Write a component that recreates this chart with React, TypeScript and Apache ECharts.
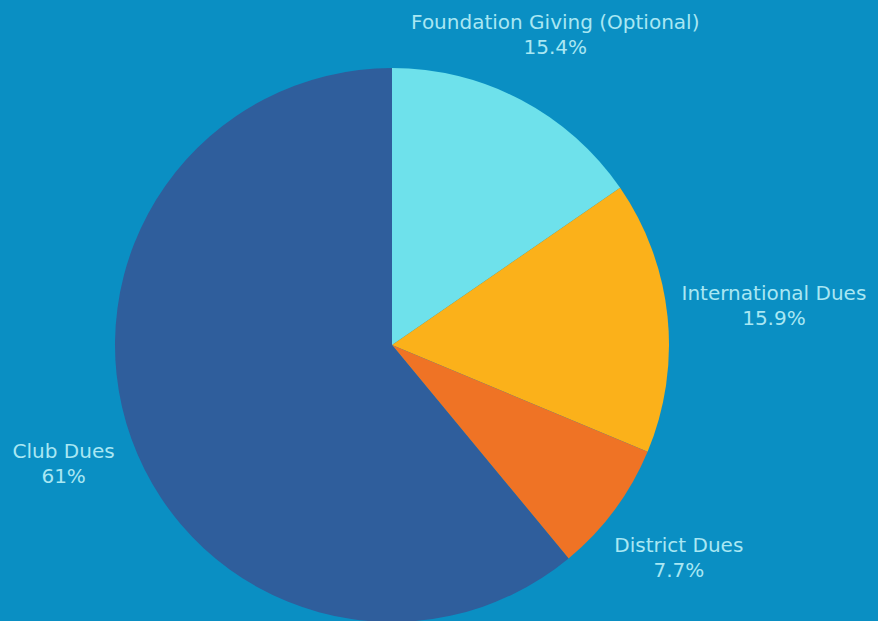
import React, { useEffect, useRef } from "react";
import * as echarts from "echarts";

const categories = ["Foundation Giving (Optional)", "International Dues", "District Dues", "Club Dues"];
const values = [15.4, 15.9, 7.7, 61];
const valueLabels = ["15.4%", "15.9%", "7.7%", "61%"];
const colors = ["#6ee1eb", "#fbb11a", "#ef7325", "#2f5e9c"];

const CX = 392;
const CY = 345;
const R = 277;
const labelRadius = [351, 384, 357, 349];

export default function App() {
  const ref = useRef<HTMLDivElement>(null);
  useEffect(() => {
    if (!ref.current) return;
    const chart = echarts.init(ref.current, undefined, { renderer: "svg" });
    const total = values.reduce((a, b) => a + b, 0);
    const mids: number[] = [];
    let acc = 0;
    values.forEach((v) => {
      mids.push(((acc + v / 2) / total) * Math.PI * 2);
      acc += v;
    });
    chart.setOption({
      animation: false,
      backgroundColor: "#0a8fc3",
      series: [
        {
          type: "pie",
          center: [CX, CY],
          radius: R,
          startAngle: 90,
          clockwise: true,
          data: categories.map((name, i) => ({
            name,
            value: values[i],
            itemStyle: { color: colors[i] },
            label: { formatter: `${name}\n${valueLabels[i]}` },
          })),
          itemStyle: { borderWidth: 0 },
          label: {
            show: true,
            position: "outside",
            color: "#a9e7f3",
            fontSize: 20,
            lineHeight: 25,
            fontFamily: "DejaVu Sans",
            align: "center",
            overflow: "none",
          },
          labelLine: { show: false },
          labelLayout: (params: any) => {
            const i = params.dataIndex;
            const a = mids[i];
            const d = labelRadius[i];
            return {
              x: CX + d * Math.sin(a),
              y: CY - d * Math.cos(a),
              align: "center",
              verticalAlign: "middle",
            };
          },
        },
      ],
    });
    return () => chart.dispose();
  }, []);
  return (
    <div
      ref={ref}
      style={{ position: "fixed", left: 0, top: 0, width: 878, height: 621 }}
    />
  );
}
